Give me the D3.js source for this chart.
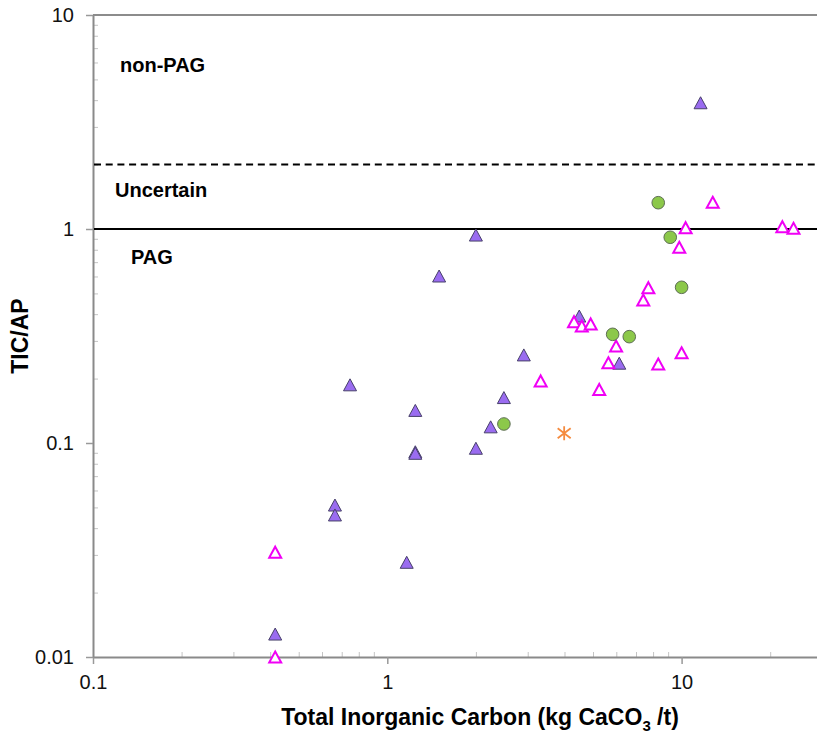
<html>
<head>
<script src="https://d3js.org/d3.v7.min.js"></script>
<style>
body { margin: 0; background: #fff; }
svg { font-family: Arial, "Liberation Sans", sans-serif; }
.tick text { font-size: 20px; fill: #111; }
.minor line { stroke: #c4c4c4; }
.major line { stroke: #999; stroke-width: 1.5; }
.major path.domain { stroke: #8a8a8a; stroke-width: 2; }
</style>
</head>
<body>
<div id="plot"></div>
<script>

// TIC (kg CaCO3/t) vs TIC/AP
var filledTriangles = [
  [11.6, 3.89], [2.0, 0.937], [1.5, 0.603], [0.747, 0.187], [1.245, 0.142],
  [1.245, 0.091], [1.245, 0.0895], [0.664, 0.0513], [0.664, 0.0461], [1.164, 0.0277],
  [0.416, 0.0128], [4.49, 0.392], [2.91, 0.258], [6.14, 0.236], [2.49, 0.163],
  [2.245, 0.119], [2.0, 0.0945]
];
var openTriangles = [
  [0.416, 0.0309], [0.416, 0.01], [4.31, 0.369], [4.58, 0.352], [4.91, 0.36],
  [5.99, 0.284], [5.64, 0.237], [3.32, 0.195], [5.25, 0.178], [7.71, 0.532],
  [7.41, 0.466], [10.0, 0.264], [8.33, 0.234], [12.76, 1.333], [10.32, 1.014],
  [22.0, 1.025], [24.0, 1.008], [9.82, 0.821]
];
var circles = [
  [8.33, 1.327], [9.15, 0.915], [10.0, 0.534], [5.83, 0.322], [6.64, 0.314], [2.49, 0.1227]
];
var stars = [[3.99, 0.111]];

var xMajor = [0.1, 1, 10];
var yMajor = [0.01, 0.1, 1, 10];
var xLabels = ["0.1", "1", "10"];
var yLabels = ["0.01", "0.1", "1", "10"];

var thresholds = [
  { value: 2, dash: "7,4.7" },
  { value: 1, dash: null }
];
var zoneLabels = [
  { text: "non-PAG", x: 120, y: 65 },
  { text: "Uncertain", x: 115, y: 190 },
  { text: "PAG", x: 131, y: 257 }
];

var width = 817, height = 735;
var plotLeft = 93, plotTop = 15, plotBottom = 657;

var svg = d3.select("#plot").append("svg")
.attr("width", width).attr("height", height);

var xScale = d3.scaleLog().domain([0.1, 30]).range([plotLeft, plotLeft + 294.3 * Math.log10(300)]);
var yScale = d3.scaleLog().domain([0.01, 10]).range([plotBottom, plotTop]);

function minorTicks(lo, hi) {
  var out = [];
  for (var d = lo; d < hi; d *= 10) {
    for (var k = 2; k <= 9; k++) out.push(d * k);
  }
  return out;
}

// minor ticks point inside the plot
svg.append("g").attr("class", "minor")
.attr("transform", "translate(0," + plotBottom + ")")
.call(d3.axisBottom(xScale).tickValues(minorTicks(0.1, 10).concat([20])).tickSize(-5).tickFormat(""))
.select(".domain").remove();

svg.append("g").attr("class", "minor")
.attr("transform", "translate(" + plotLeft + ",0)")
.call(d3.axisLeft(yScale).tickValues(minorTicks(0.01, 10)).tickSize(-5).tickFormat(""))
.select(".domain").remove();

// top frame
svg.append("line")
.attr("x1", plotLeft).attr("x2", width)
.attr("y1", plotTop).attr("y2", plotTop)
.style("stroke", "#666").style("stroke-width", 1.5);

svg.append("g").attr("class", "major")
.attr("transform", "translate(0," + plotBottom + ")")
.call(d3.axisBottom(xScale).tickValues(xMajor).tickSize(7).tickSizeOuter(0).tickPadding(11)
  .tickFormat(function (d, i) { return xLabels[i]; }));

svg.append("g").attr("class", "major")
.attr("transform", "translate(" + plotLeft + ",0)")
.call(d3.axisLeft(yScale).tickValues(yMajor).tickSize(7).tickSizeOuter(0).tickPadding(12)
  .tickFormat(function (d, i) { return yLabels[i]; }));

// threshold lines
svg.selectAll("line.threshold")
.data(thresholds).enter().append("line").attr("class", "threshold")
.attr("x1", plotLeft + 1).attr("x2", width)
.attr("y1", function (d) { return yScale(d.value); })
.attr("y2", function (d) { return yScale(d.value); })
.style("stroke", "#000").style("stroke-width", 2)
.style("stroke-dasharray", function (d) { return d.dash; });

svg.selectAll("text.zone")
.data(zoneLabels).enter().append("text").attr("class", "zone")
.attr("x", function (d) { return d.x; })
.attr("y", function (d) { return d.y; })
.attr("dy", "0.36em")
.style("font-size", "20px").style("font-weight", "bold")
.text(function (d) { return d.text; });

// markers
function triangle(w, h) {
  return "M0," + (-h / 2) + "L" + (w / 2) + "," + (h / 2) + "L" + (-w / 2) + "," + (h / 2) + "Z";
}
function place(d) {
  return "translate(" + xScale(d[0]) + "," + yScale(d[1]) + ")";
}

svg.selectAll("path.filled")
.data(filledTriangles).enter().append("path").attr("class", "filled")
.attr("d", triangle(13, 12))
.attr("transform", place)
.style("fill", "#9a6cf0")
.style("stroke", "#47406a")
.style("stroke-width", 1);

svg.selectAll("path.open")
.data(openTriangles).enter().append("path").attr("class", "open")
.attr("d", triangle(12, 11))
.attr("transform", place)
.style("fill", "#fff")
.style("stroke", "#f000f5")
.style("stroke-width", 2);

svg.selectAll("circle.dot")
.data(circles).enter().append("circle").attr("class", "dot")
.attr("cx", function (d) { return xScale(d[0]); })
.attr("cy", function (d) { return yScale(d[1]); })
.attr("r", 6.3)
.style("fill", "#8cc84a")
.style("stroke", "#5e6e55")
.style("stroke-width", 1);

svg.selectAll("path.star")
.data(stars).enter().append("path").attr("class", "star")
.attr("d", "M0,-7L0,7M-6.5,-5L6.5,5M-6.5,5L6.5,-5")
.attr("transform", place)
.style("fill", "none")
.style("stroke", "#f58b3f")
.style("stroke-width", 1.8);

// axis titles
var xTitle = svg.append("text")
.attr("x", 480).attr("y", 725)
.attr("text-anchor", "middle")
.style("font-size", "23px").style("font-weight", "bold");
xTitle.append("tspan").text("Total Inorganic Carbon (kg CaCO");
xTitle.append("tspan").attr("dy", 6).style("font-size", "15px").text("3");
xTitle.append("tspan").attr("dy", -6).text(" /t)");

svg.append("text")
.attr("transform", "translate(28,336) rotate(-90)")
.attr("text-anchor", "middle")
.style("font-size", "23px").style("font-weight", "bold")
.text("TIC/AP");

</script>
</body>
</html>
